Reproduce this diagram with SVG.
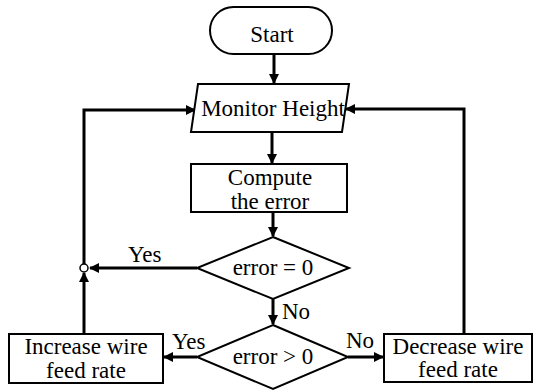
<svg xmlns="http://www.w3.org/2000/svg" width="535" height="391" viewBox="0 0 535 391">
<defs>
<style>
.s{fill:#fff;stroke:#000;stroke-width:2}
.c{fill:none;stroke:#000;stroke-width:3}
text{font-family:"Liberation Serif","Times New Roman",serif;font-size:23px;fill:#000}
.m{text-anchor:middle}
</style>
<marker id="ah" markerWidth="10" markerHeight="10" refX="9" refY="5" orient="auto" markerUnits="userSpaceOnUse">
<path d="M0,0 L10,5 L0,10 Z" fill="#000"/>
</marker>
</defs>
<rect width="535" height="391" fill="#fff"/>
<g id="connectors">
<line class="c" x1="274" y1="54" x2="274" y2="83" marker-end="url(#ah)"/>
<line class="c" x1="272" y1="132" x2="272" y2="163" marker-end="url(#ah)"/>
<line class="c" x1="273" y1="212" x2="273" y2="236" marker-end="url(#ah)"/>
<line class="c" x1="197" y1="268" x2="90" y2="268" marker-end="url(#ah)"/>
<line class="c" x1="273" y1="299" x2="273" y2="324" marker-end="url(#ah)"/>
<line class="c" x1="197" y1="357" x2="164" y2="357" marker-end="url(#ah)"/>
<line class="c" x1="348" y1="357" x2="383" y2="357" marker-end="url(#ah)"/>
<line class="c" x1="84" y1="334" x2="84" y2="273" marker-end="url(#ah)"/>
<polyline class="c" points="84,264 84,110 195,110" marker-end="url(#ah)"/>
<polyline class="c" points="464,334 464,109 346,109" marker-end="url(#ah)"/>
<circle cx="84" cy="268" r="4" fill="#fff" stroke="#000" stroke-width="1.5"/>
<text x="128" y="262">Yes</text>
<text x="282" y="319">No</text>
<text x="172" y="349">Yes</text>
<text x="346" y="348">No</text>
</g>
<g id="start">
<rect class="s" x="210" y="7" width="122" height="47" rx="23.5"/>
<text class="m" x="272" y="42">Start</text>
</g>
<g id="monitor">
<polygon class="s" points="198,84 349,84 342,132 191,132"/>
<text class="m" x="273" y="116">Monitor Height</text>
</g>
<g id="compute">
<rect class="s" x="191" y="164" width="156" height="48"/>
<text class="m" x="270" y="185">Compute</text>
<text class="m" x="270" y="209">the error</text>
</g>
<g id="decision1">
<polygon class="s" points="273,237 349,268 273,299 197,268"/>
<text class="m" x="273" y="275">error = 0</text>
</g>
<g id="decision2">
<polygon class="s" points="273,325 348,357 273,389 197,357"/>
<text class="m" x="273" y="364">error &gt; 0</text>
</g>
<g id="increase">
<rect class="s" x="9" y="334" width="154" height="49"/>
<text class="m" x="86" y="354">Increase wire</text>
<text class="m" x="86" y="378">feed rate</text>
</g>
<g id="decrease">
<rect class="s" x="384" y="334" width="148" height="48"/>
<text class="m" x="458" y="354">Decrease wire</text>
<text class="m" x="458" y="377">feed rate</text>
</g>
</svg>
